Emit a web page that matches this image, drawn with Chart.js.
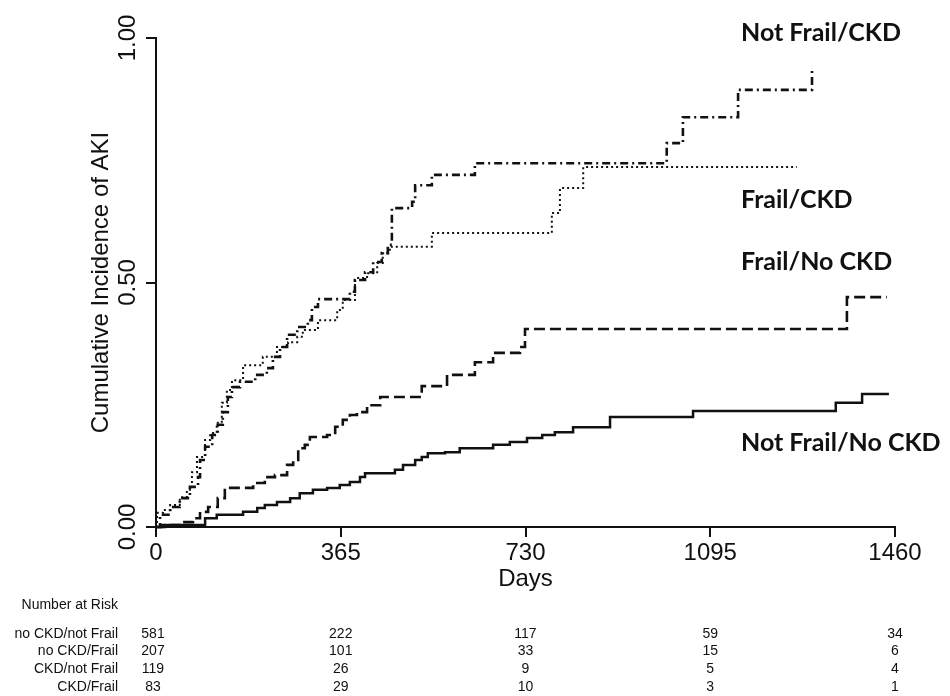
<!DOCTYPE html>
<html>
<head>
<meta charset="utf-8">
<script src="https://cdn.jsdelivr.net/npm/chart.js@4.4.1/dist/chart.umd.min.js"></script>
<style>
  html, body { margin: 0; padding: 0; background: #fff; }
  #wrap { width: 950px; height: 696px; position: relative; }
</style>
</head>
<body>
<div id="wrap"><canvas id="aki-canvas"></canvas></div>
<script>
const dayTicks = [0, 365, 730, 1095, 1460];
const incTicks = [0, 0.5, 1];

// Not Frail / No CKD (solid)
const noCkdNotFrailDays = [0, 18, 97, 120, 172, 200, 215, 239, 265, 284, 310, 338, 363, 383, 403, 413, 472, 488, 512, 525, 537, 571, 600, 666, 699, 733, 763, 788, 824, 897, 1061, 1343, 1395, 1448];
const noCkdNotFrailInc = [0, 0.004, 0.018, 0.025, 0.031, 0.039, 0.045, 0.051, 0.059, 0.069, 0.076, 0.080, 0.086, 0.092, 0.102, 0.110, 0.117, 0.127, 0.137, 0.143, 0.151, 0.153, 0.161, 0.168, 0.174, 0.182, 0.188, 0.194, 0.204, 0.225, 0.237, 0.254, 0.272, 0.272];

// Frail / No CKD (dashed)
const noCkdFrailDays = [0, 12, 51, 73, 87, 103, 122, 136, 192, 215, 235, 259, 271, 281, 294, 304, 338, 354, 369, 383, 397, 417, 443, 525, 575, 630, 666, 719, 729, 1365, 1444];
const noCkdFrailInc = [0, 0.004, 0.010, 0.018, 0.031, 0.041, 0.059, 0.080, 0.090, 0.102, 0.106, 0.127, 0.137, 0.161, 0.168, 0.184, 0.188, 0.205, 0.219, 0.229, 0.235, 0.249, 0.266, 0.288, 0.311, 0.337, 0.356, 0.368, 0.405, 0.470, 0.470];

// Not Frail / CKD (dot-dash)
const ckdNotFrailDays = [0, 8, 28, 47, 67, 83, 87, 97, 111, 122, 132, 142, 150, 166, 196, 219, 231, 245, 259, 279, 300, 308, 320, 383, 393, 413, 429, 446, 458, 466, 506, 512, 545, 630, 1009, 1041, 1150, 1296];
const ckdNotFrailInc = [0, 0.025, 0.041, 0.059, 0.082, 0.102, 0.137, 0.164, 0.188, 0.209, 0.235, 0.266, 0.286, 0.297, 0.311, 0.325, 0.348, 0.368, 0.393, 0.409, 0.423, 0.450, 0.466, 0.481, 0.505, 0.521, 0.542, 0.560, 0.577, 0.652, 0.665, 0.699, 0.720, 0.744, 0.785, 0.838, 0.894, 0.939];

// Frail / CKD (dotted)
const ckdFrailDays = [0, 2, 14, 28, 47, 61, 71, 81, 97, 107, 120, 130, 140, 150, 172, 211, 239, 261, 279, 290, 320, 358, 369, 393, 417, 437, 448, 462, 545, 782, 798, 844, 1266];
const ckdFrailInc = [0, 0.029, 0.035, 0.045, 0.061, 0.076, 0.112, 0.143, 0.178, 0.192, 0.213, 0.254, 0.280, 0.300, 0.331, 0.348, 0.368, 0.378, 0.389, 0.403, 0.423, 0.444, 0.464, 0.509, 0.519, 0.540, 0.560, 0.573, 0.601, 0.642, 0.693, 0.736, 0.736];

// number at risk table
const riskLabels = ["no CKD/not Frail", "no CKD/Frail", "CKD/not Frail", "CKD/Frail"];
const riskNoCkdNotFrail = [581, 222, 117, 59, 34];
const riskNoCkdFrail = [207, 101, 33, 15, 6];
const riskCkdNotFrail = [119, 26, 9, 5, 4];
const riskCkdFrail = [83, 29, 10, 3, 1];

const curveLabels = ["Not Frail/CKD", "Frail/CKD", "Frail/No CKD", "Not Frail/No CKD"];

const INK = "#111";
const SANS = "'Liberation Sans', Arial, Helvetica, sans-serif";

function steps(days, inc) {
  return days.map((d, i) => ({ x: d, y: inc[i] }));
}

function curve(label, days, inc, dash, width) {
  return {
    label: label,
    data: steps(days, inc),
    borderColor: INK,
    borderWidth: width,
    borderDash: dash,
    stepped: "before",
    pointRadius: 0,
    fill: false,
    clip: false,
  };
}

const annotate = {
  id: "annotate",
  afterDraw(chart) {
    const ctx = chart.ctx;
    const xs = chart.scales.x;
    const ys = chart.scales.y;
    ctx.save();
    ctx.fillStyle = INK;

    // rotated y tick labels
    ctx.font = "24px " + SANS;
    ctx.textAlign = "center";
    ctx.textBaseline = "middle";
    incTicks.forEach((v) => {
      ctx.save();
      ctx.translate(128, ys.getPixelForValue(v));
      ctx.rotate(-Math.PI / 2);
      ctx.fillText(v.toFixed(2), 0, 0);
      ctx.restore();
    });

    // y title
    ctx.save();
    ctx.translate(101, ys.getPixelForValue(0.5));
    ctx.rotate(-Math.PI / 2);
    ctx.fillText("Cumulative Incidence of AKI", 0, 0);
    ctx.restore();

    // x title
    ctx.fillText("Days", xs.getPixelForValue(730), 579);

    // curve labels
    ctx.font = "bold 25px Lato, 'Open Sans', sans-serif";
    ctx.textAlign = "left";
    const labelY = [33, 200, 262, 443];
    curveLabels.forEach((t, i) => ctx.fillText(t, 741, labelY[i]));

    // number at risk
    ctx.font = "14px " + SANS;
    ctx.textAlign = "right";
    ctx.fillText("Number at Risk", 118, 605);
    const rows = [riskNoCkdNotFrail, riskNoCkdFrail, riskCkdNotFrail, riskCkdFrail];
    const rowY = [634, 651, 669, 687];
    rows.forEach((row, r) => {
      ctx.textAlign = "right";
      ctx.fillText(riskLabels[r], 118, rowY[r]);
      ctx.textAlign = "center";
      row.forEach((n, c) => {
        const px = xs.getPixelForValue(dayTicks[c]) - (c === 0 ? 3 : 0);
        ctx.fillText(String(n), px, rowY[r]);
      });
    });
    ctx.restore();
  },
};

const ctx = document.getElementById("aki-canvas").getContext("2d");
new Chart(ctx, {
  type: "line",
  data: {
    datasets: [
      curve("Not Frail/No CKD", noCkdNotFrailDays, noCkdNotFrailInc, [], 2.5),
      curve("Frail/No CKD", noCkdFrailDays, noCkdFrailInc, [11, 5], 2.6),
      curve("Not Frail/CKD", ckdNotFrailDays, ckdNotFrailInc, [8, 4, 2, 4], 2.6),
      curve("Frail/CKD", ckdFrailDays, ckdFrailInc, [2, 3], 2),
    ],
  },
  options: {
    responsive: true,
    maintainAspectRatio: false,
    animation: false,
    layout: {
      padding: { left: 144, right: 55, top: 38, bottom: 0 },
    },
    plugins: {
      legend: { display: false },
      tooltip: { enabled: false },
    },
    scales: {
      x: {
        type: "linear",
        min: 0,
        max: 1460,
        afterBuildTicks: (scale) => {
          scale.ticks = dayTicks.map((v) => ({ value: v }));
        },
        afterFit: (scale) => {
          scale.height = 169;
        },
        grid: {
          drawOnChartArea: false,
          drawTicks: true,
          tickLength: 10,
          color: INK,
          lineWidth: 2,
        },
        border: { display: true, color: INK, width: 2 },
        ticks: {
          color: INK,
          font: { size: 24, family: SANS },
          maxRotation: 0,
          padding: 2,
          callback: (value) => String(value),
        },
      },
      y: {
        type: "linear",
        min: 0,
        max: 1,
        afterBuildTicks: (scale) => {
          scale.ticks = incTicks.map((v) => ({ value: v }));
        },
        afterFit: (scale) => {
          scale.width = 12;
        },
        grid: {
          drawOnChartArea: false,
          drawTicks: true,
          tickLength: 10,
          color: INK,
          lineWidth: 2,
        },
        border: { display: true, color: INK, width: 2 },
        ticks: { display: false },
      },
    },
  },
  plugins: [annotate],
});
</script>
</body>
</html>
